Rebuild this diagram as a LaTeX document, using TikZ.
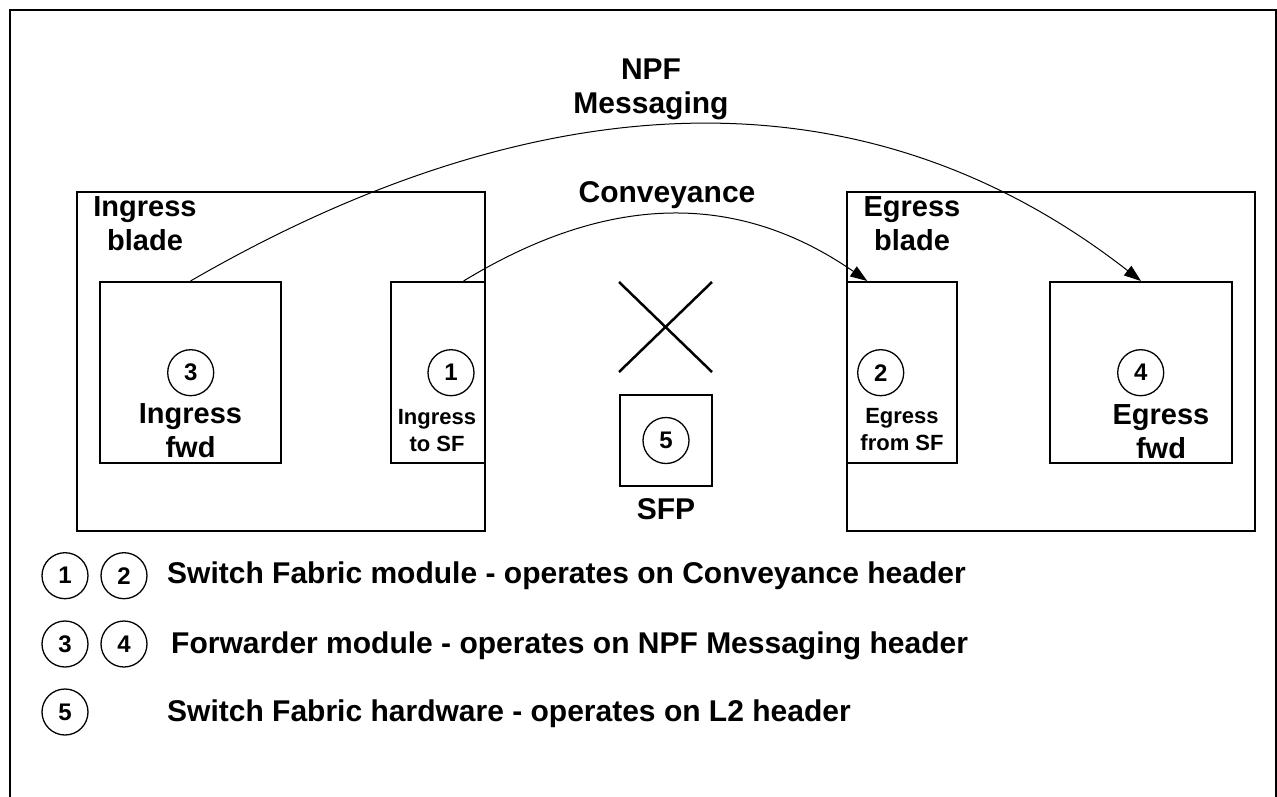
\documentclass[tikz,border=0pt]{standalone}
\usepackage{fontspec}
\setmainfont{Liberation Sans}
\usetikzlibrary{arrows.meta,calc}
\begin{document}
\begin{tikzpicture}[x=1pt,y=-1pt,
  box/.style={draw, line width=2pt, rectangle, inner sep=0pt},
  num/.style={draw, circle, line width=1.3pt, minimum size=46pt, inner sep=0pt, font=\fontsize{24}{24}\selectfont\bfseries},
  big/.style={font=\fontsize{29}{34}\selectfont\bfseries, align=center, inner sep=0pt},
  head/.style={font=\fontsize{30}{34}\selectfont\bfseries, align=center, inner sep=0pt},
  small/.style={font=\fontsize{22}{27}\selectfont\bfseries, align=center, inner sep=0pt},
  leg/.style={font=\fontsize{30}{30}\selectfont\bfseries, anchor=base west, inner sep=0pt},
  flow/.style={line width=1pt, -{Triangle[length=17pt,width=12pt]}},
]
\useasboundingbox (0,0) rectangle (1277,797);
% outer frame (bottom edge lies outside the picture)
\draw[line width=2pt] (10,797) -- (10,10) -- (1276,10) -- (1276,797);

% blades
\node[box, minimum width=408pt, minimum height=339pt] (ingblade) at (281,361.5) {};
\node[box, minimum width=408pt, minimum height=339pt] (egblade) at (1051,361.5) {};
% modules
\node[box, fill=white, minimum width=181pt, minimum height=181pt] (ingfwd) at (190.5,372.5) {};
\node[box, fill=white, minimum width=94pt, minimum height=181pt] (ingsf) at (438,372.5) {};
\node[box, fill=white, minimum width=110pt, minimum height=181pt] (egsf) at (902,372.5) {};
\node[box, fill=white, minimum width=182pt, minimum height=181pt] (egfwd) at (1141,372.5) {};
\node[box, minimum width=92pt, minimum height=91pt] (sfpbox) at (666,440.5) {};

% cross (switch)
\coordinate (xa) at (619,282);
\coordinate (xb) at (712,372);
\coordinate (xc) at (619,372);
\coordinate (xd) at (712,282);
\draw[line width=2.5pt] (xa) -- (xb);
\draw[line width=2.5pt] (xc) -- (xd);

% labels
\node[big] (lingblade) at (145,224) {Ingress\\blade};
\node[big] (legblade) at (912,224) {Egress\\blade};
\node[big] (lingfwd) at (190.5,431) {Ingress\\fwd};
\node[big] (legfwd) at (1161,432) {Egress\\fwd};
\node[small] (lingsf) at (437,431) {Ingress\\to SF};
\node[small] (legsf) at (902,430) {Egress\\from SF};
\node[head] (lnpf) at (651,89) {NPF\\Messaging};
\node[head, anchor=base] (lconv) at (667,202) {Conveyance};
\node[head, anchor=base] (lsfp) at (666,519) {SFP};

% numbered circles
\node[num] (c3) at (190.7,372.7) {3};
\node[num] (c1) at (451,372.7) {1};
\node[num] (c2) at (880.7,372.7) {2};
\node[num] (c4) at (1140.7,372.7) {4};
\node[num] (c5) at (666,440.5) {5};

% flows
\coordinate (convstart) at ($(ingsf.north west)!0.766!(ingsf.north east)$);
\coordinate (convend) at ($(egsf.north west)!0.19!(egsf.north east)$);
\draw[flow] (ingfwd.north) .. controls (469.5,119.5) and (819.8,30.8) .. (egfwd.north);
\draw[flow] (convstart) .. controls (602.5,196.5) and (732.5,187.8) .. (convend);

% legend
\node[num] (k1) at (65,575.7) {1};
\node[num] (k2) at (124,575.7) {2};
\node[num] (k3) at (65,644) {3};
\node[num] (k4) at (124,644) {4};
\node[num] (k5) at (65,712) {5};
\node[leg] (t1) at (167,583.3) {Switch Fabric module - operates on Conveyance header};
\node[leg] (t2) at (171,653) {Forwarder module - operates on NPF Messaging header};
\node[leg] (t3) at (167,721.7) {Switch Fabric hardware - operates on L2 header};
\end{tikzpicture}
\end{document}
